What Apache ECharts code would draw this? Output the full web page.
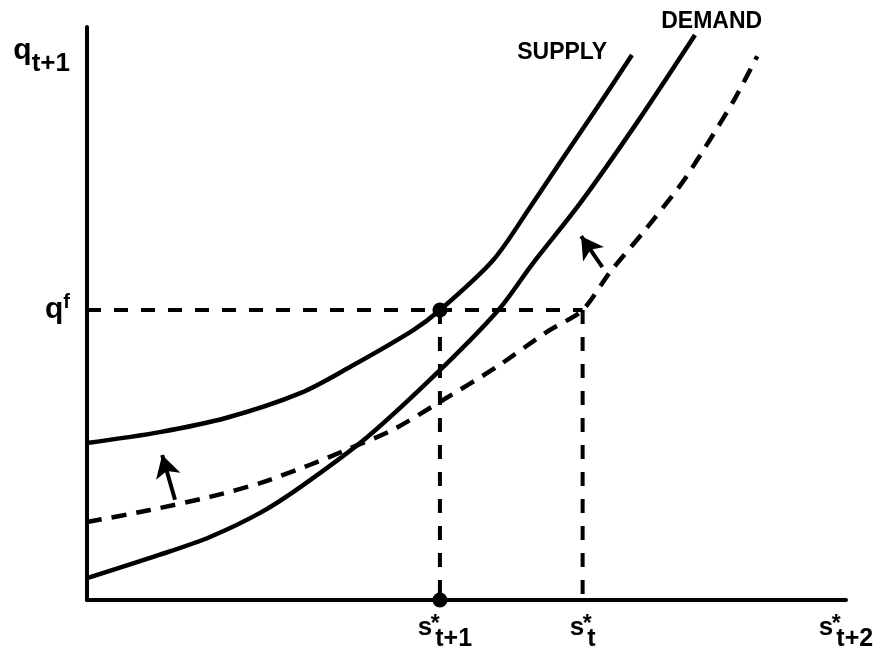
<!DOCTYPE html>
<html><head><meta charset="utf-8">
<script src="https://cdn.jsdelivr.net/npm/echarts@6/dist/echarts.min.js"></script>
<style>html,body{margin:0;padding:0;background:#fff}#c{width:893px;height:658px}</style>
</head><body><div id="c"></div>
<script>
// ---- data ----
const supplyCurve = [[0,27.4],[9.6,29.3],[18.4,31.8],[28.1,36.1],[34.7,40.7],[43.0,47.1],[46.5,50.6],[53.5,59.3],[58.4,68.6],[62.7,77.1],[67.2,85.9],[71.8,95.1]];
const demandCurve = [[0,3.8],[9.6,7.9],[16.2,11.0],[22.8,15.2],[28.1,19.7],[36.9,28.4],[46.5,40.1],[54.2,50.6],[58.6,58.5],[65.0,69.3],[72.5,83.4],[80.1,98.6]];
const shiftedDemand = [[0,13.6],[8.3,15.7],[16.2,18.0],[22.8,20.4],[29.4,23.6],[34.7,26.5],[40.3,29.7],[46.9,34.9],[54.0,40.7],[60.6,46.8],[65.3,50.6],[68.9,57.2],[73.3,64.2],[78.4,72.8],[82.3,80.8],[85.4,87.6],[88.3,94.9]];
const qf = 50.6;
const sT1 = 46.5;   // s*_{t+1}
const sT = 65.3;    // s*_t
const sT2 = 100;    // s*_{t+2}
const xTickValues = [sT1, sT, sT2];
const xTickSubs = ['t+1', 't', 't+2'];
const yTickValues = [qf, 95.8];
const yTickSups = ['f', ''];
const yTickSubs = ['', 't+1'];
const arrowLower = [[11.6, 17.5], [9.9, 25.3]];
const arrowUpper = [[67.9, 58.1], [65.1, 63.5]];
const supplyLabelAt = [62.6, 95.6];
const demandLabelAt = [82.3, 100];

const FONT = '"Liberation Sans", Arial, sans-serif';
const BLACK = '#000';
const chart = echarts.init(document.getElementById('c'), null, {renderer: 'canvas'});

function findIdx(arr, v) { return arr.findIndex(t => Math.abs(t - v) < 1e-6); }

const solid = {color: BLACK, width: 4.5, type: 'solid'};
const refDash = {color: BLACK, width: 4, type: [14, 13], cap: 'butt'};

const option = {
  animation: false,
  backgroundColor: '#fff',
  grid: {left: 87, right: 47, top: 27, bottom: 58, containLabel: false},
  xAxis: {
    type: 'value', min: 0, max: 100,
    axisLine: {show: true, onZero: false, lineStyle: {color: BLACK, width: 4}},
    axisTick: {show: false},
    splitLine: {show: false},
    axisLabel: {
      customValues: xTickValues,
      margin: 3,
      color: BLACK,
      hideOverlap: false,
      formatter: function (v) {
        const i = findIdx(xTickValues, v);
        if (i < 0) return '';
        const sStyle = i === 0 ? 'sw' : 's';
        return '{' + sStyle + '|s}{star|*}{sub|' + xTickSubs[i] + '}';
      },
      rich: {
        s: {fontFamily: FONT, fontSize: 26, fontWeight: 'bold', color: BLACK},
        sw: {fontFamily: FONT, fontSize: 26, fontWeight: 'bold', color: BLACK, padding: [0, 0, 0, 10]},
        star: {fontFamily: FONT, fontSize: 23, fontWeight: 'bold', color: BLACK, width: 0, padding: [0, 0, 5, 3]},
        sub: {fontFamily: FONT, fontSize: 25, fontWeight: 'bold', color: BLACK, padding: [24, 0, 0, 0]}
      }
    }
  },
  yAxis: {
    type: 'value', min: 0, max: 100,
    axisLine: {show: true, onZero: false, lineStyle: {color: BLACK, width: 4}},
    axisTick: {show: false},
    splitLine: {show: false},
    axisLabel: {
      customValues: yTickValues,
      margin: 17,
      color: BLACK,
      hideOverlap: false,
      formatter: function (v) {
        const i = findIdx(yTickValues, v);
        if (i < 0) return '';
        let t = '{q|q}';
        if (yTickSups[i]) t += '{sup|' + yTickSups[i] + '}';
        if (yTickSubs[i]) t += '{sub|' + yTickSubs[i] + '}';
        return t;
      },
      rich: {
        q: {fontFamily: FONT, fontSize: 30, fontWeight: 'bold', color: BLACK},
        sup: {fontFamily: FONT, fontSize: 20, fontWeight: 'bold', color: BLACK, padding: [0, 0, 16, 0]},
        sub: {fontFamily: FONT, fontSize: 26, fontWeight: 'bold', color: BLACK, padding: [25, 0, 0, 0]}
      }
    }
  },
  series: [
    {
      name: 'qfLine', type: 'line', data: [[0, qf], [sT, qf]],
      symbol: 'none', lineStyle: refDash, silent: true, clip: false, z: 2
    },
    {
      name: 'vT1', type: 'line', data: [[sT1, qf], [sT1, 0]],
      symbol: 'none', lineStyle: refDash, silent: true, clip: false, z: 2
    },
    {
      name: 'vT', type: 'line', data: [[sT, qf], [sT, 0]],
      symbol: 'none', lineStyle: refDash, silent: true, clip: false, z: 2
    },
    {
      name: 'SUPPLY', type: 'line', data: supplyCurve, smooth: 0.3,
      symbol: 'none', lineStyle: solid, silent: true, clip: false, z: 3,
      markPoint: {
        symbol: 'circle', symbolSize: 1, silent: true,
        itemStyle: {color: 'rgba(0,0,0,0)'},
        label: {show: true, position: 'inside', formatter: 'SUPPLY', color: BLACK,
          fontFamily: FONT, fontSize: 23, fontWeight: 'bold'},
        data: [{coord: supplyLabelAt}]
      }
    },
    {
      name: 'DEMAND', type: 'line', data: demandCurve, smooth: 0.3,
      symbol: 'none', lineStyle: solid, silent: true, clip: false, z: 3,
      markPoint: {
        symbol: 'circle', symbolSize: 1, silent: true,
        itemStyle: {color: 'rgba(0,0,0,0)'},
        label: {show: true, position: 'inside', formatter: 'DEMAND', color: BLACK, offset: [0, -5],
          fontFamily: FONT, fontSize: 23, fontWeight: 'bold'},
        data: [{coord: demandLabelAt}]
      }
    },
    {
      name: 'shifted', type: 'line', data: shiftedDemand, smooth: 0.25,
      symbol: 'none', lineStyle: {color: BLACK, width: 4.5, type: [15, 10], cap: 'butt'},
      silent: true, clip: false, z: 3,
      markLine: {
        silent: true, symbol: ['none', 'arrow'], symbolSize: [19, 22],
        label: {show: false},
        lineStyle: {color: BLACK, width: 4, type: 'solid'},
        emphasis: {disabled: true},
        data: [
          [{coord: arrowLower[0]}, {coord: arrowLower[1]}],
          [{coord: arrowUpper[0]}, {coord: arrowUpper[1]}]
        ]
      }
    },
    {
      name: 'points', type: 'scatter', data: [[sT1, qf], [sT1, 0]],
      symbol: 'circle', symbolSize: 15, itemStyle: {color: BLACK, opacity: 1},
      silent: true, clip: false, z: 5
    }
  ]
};
chart.setOption(option);
</script>
</body></html>
